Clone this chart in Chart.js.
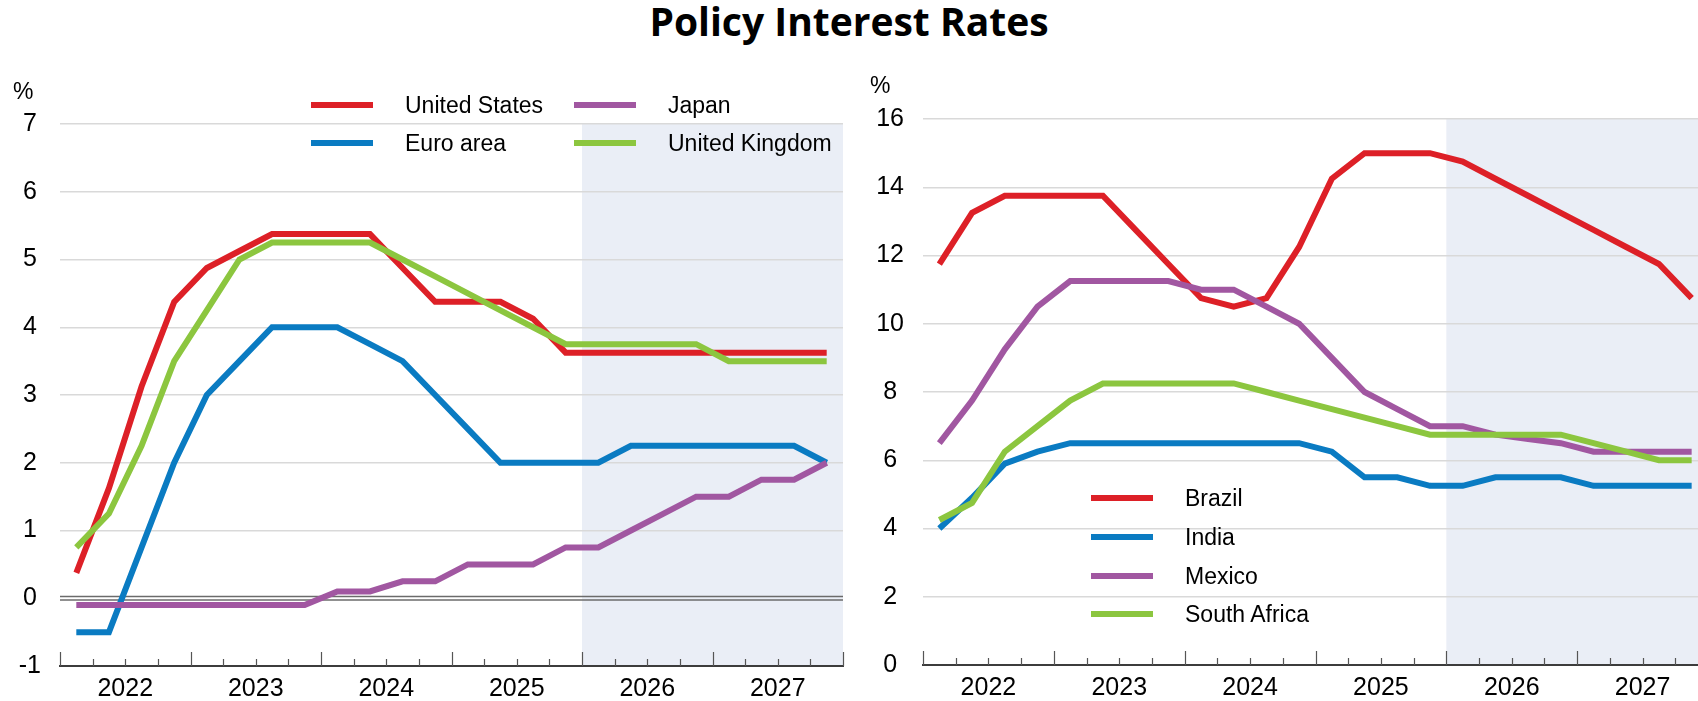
<!DOCTYPE html>
<html>
<head>
<meta charset="utf-8">
<title>Policy Interest Rates</title>
<script src="https://cdn.jsdelivr.net/npm/chart.js@4.4.1/dist/chart.umd.min.js"></script>
<style>
  html, body { margin: 0; padding: 0; width: 1698px; height: 701px; overflow: hidden; background: #fff; }
  body { position: relative; font-family: "Liberation Sans", Arial, sans-serif; color: #000; }
  #title { position: absolute; left: 0; top: -1px; width: 1698px; text-align: center;
           font-family: "Open Sans", Lato, sans-serif; font-weight: 700; font-size: 39px; line-height: 44px; }
  canvas { position: absolute; top: 0; }
  #leftChart { left: 0; }
  #rightChart { left: 850px; }
  .unit { position: absolute; font-size: 23px; line-height: 23px; }
  .item { position: absolute; height: 30px; display: flex; align-items: center; white-space: nowrap;
          font-size: 23px; line-height: 30px; }
  .swatch { display: inline-block; width: 62px; height: 6px; margin-right: 32px; }
</style>
</head>
<body>
<div id="title">Policy Interest Rates</div>
<canvas id="leftChart" width="850" height="701"></canvas>
<canvas id="rightChart" width="870" height="701"></canvas>
<div class="unit" style="left:13px; top:80px;">%</div>
<div class="unit" style="left:870px; top:74px;">%</div>
<div id="legends"></div>

<script>
// Quarters 2022Q1 .. 2027Q4
const years = ["2022", "2023", "2024", "2025", "2026", "2027"];
const quarters = [];
years.forEach(y => ["Q1", "Q2", "Q3", "Q4"].forEach(q => quarters.push(y + q)));

// Left panel: advanced economies (%)
const unitedStates = [0.375, 1.625, 3.125, 4.375, 4.875, 5.125, 5.375, 5.375, 5.375, 5.375, 4.875, 4.375,
                      4.375, 4.375, 4.125, 3.625, 3.625, 3.625, 3.625, 3.625, 3.625, 3.625, 3.625, 3.625];
const euroArea     = [-0.5, -0.5, 0.75, 2.0, 3.0, 3.5, 4.0, 4.0, 4.0, 3.75, 3.5, 3.0,
                      2.5, 2.0, 2.0, 2.0, 2.0, 2.25, 2.25, 2.25, 2.25, 2.25, 2.25, 2.0];
const japan        = [-0.1, -0.1, -0.1, -0.1, -0.1, -0.1, -0.1, -0.1, 0.1, 0.1, 0.25, 0.25,
                      0.5, 0.5, 0.5, 0.75, 0.75, 1.0, 1.25, 1.5, 1.5, 1.75, 1.75, 2.0];
const unitedKingdom = [0.75, 1.25, 2.25, 3.5, 4.25, 5.0, 5.25, 5.25, 5.25, 5.25, 5.0, 4.75,
                       4.5, 4.25, 4.0, 3.75, 3.75, 3.75, 3.75, 3.75, 3.5, 3.5, 3.5, 3.5];

// Right panel: emerging markets (%)
const brazil      = [11.75, 13.25, 13.75, 13.75, 13.75, 13.75, 12.75, 11.75, 10.75, 10.5, 10.75, 12.25,
                     14.25, 15.0, 15.0, 15.0, 14.75, 14.25, 13.75, 13.25, 12.75, 12.25, 11.75, 10.75];
const india       = [4.0, 4.9, 5.9, 6.25, 6.5, 6.5, 6.5, 6.5, 6.5, 6.5, 6.5, 6.5,
                     6.25, 5.5, 5.5, 5.25, 5.25, 5.5, 5.5, 5.5, 5.25, 5.25, 5.25, 5.25];
const mexico      = [6.5, 7.75, 9.25, 10.5, 11.25, 11.25, 11.25, 11.25, 11.0, 11.0, 10.5, 10.0,
                     9.0, 8.0, 7.5, 7.0, 7.0, 6.75, 6.625, 6.5, 6.25, 6.25, 6.25, 6.25];
const southAfrica = [4.25, 4.75, 6.25, 7.0, 7.75, 8.25, 8.25, 8.25, 8.25, 8.25, 8.0, 7.75,
                     7.5, 7.25, 7.0, 6.75, 6.75, 6.75, 6.75, 6.75, 6.5, 6.25, 6.0, 6.0];

const forecastStart = 16; // index of 2026Q1, shaded from here

const RED = "#dd2027", BLUE = "#0a7bc2", PURPLE = "#a157a1", GREEN = "#8cc63f";

function series(label, values, color) {
  return { label: label, values: values, color: color };
}

const leftSeries = [
  series("United States", unitedStates, RED),
  series("Euro area", euroArea, BLUE),
  series("Japan", japan, PURPLE),
  series("United Kingdom", unitedKingdom, GREEN)
];
const rightSeries = [
  series("Brazil", brazil, RED),
  series("India", india, BLUE),
  series("Mexico", mexico, PURPLE),
  series("South Africa", southAfrica, GREEN)
];

// shading, zero line and the little x ticks
const decor = {
  id: "decor",
  beforeDraw(chart, args, opts) {
    const { ctx, chartArea: a, scales: { x } } = chart;
    const x0 = x.getPixelForValue(opts.shadeFrom);
    ctx.save();
    ctx.fillStyle = "#eaeef6";
    ctx.fillRect(x0, a.top, a.right - x0, a.bottom - a.top);
    ctx.restore();
  },
  beforeDatasetsDraw(chart, args, opts) {
    if (!opts.zeroLine) return;
    const { ctx, chartArea: a, scales: { y } } = chart;
    const y0 = y.getPixelForValue(0);
    ctx.save();
    ctx.strokeStyle = "#6b6b6b";
    ctx.lineWidth = 1.4;
    [-1.7, 1.7].forEach(d => {
      ctx.beginPath();
      ctx.moveTo(a.left, y0 + d);
      ctx.lineTo(a.right, y0 + d);
      ctx.stroke();
    });
    ctx.restore();
  },
  afterDatasetsDraw(chart) {
    const { ctx, chartArea: a, scales: { x } } = chart;
    ctx.save();
    ctx.strokeStyle = "#555";
    ctx.lineWidth = 1.2;
    for (let i = 0; i <= quarters.length; i++) {
      const px = Math.round(x.getPixelForValue(i)) + 0.5;
      const len = i % 4 === 0 ? 14 : 7;
      ctx.beginPath();
      ctx.moveTo(px, a.bottom);
      ctx.lineTo(px, a.bottom - len);
      ctx.stroke();
    }
    ctx.restore();
  }
};

function makeChart(id, list, yMin, yMax, yStep, box, zeroLine) {
  const datasets = list.map((s, k) => ({
    label: s.label,
    data: s.values.map((v, i) => ({ x: i + 0.5, y: v })),
    borderColor: s.color,
    backgroundColor: s.color,
    borderWidth: 6,
    borderJoinStyle: "miter",
    borderCapStyle: "butt",
    pointRadius: 0,
    tension: 0,
    order: list.length - k
  }));

  return new Chart(document.getElementById(id), {
    type: "line",
    data: { datasets: datasets },
    options: {
      responsive: false,
      animation: false,
      events: [],
      layout: { padding: { top: box.top, right: box.right, bottom: 0, left: 0 } },
      plugins: {
        legend: { display: false },
        tooltip: { enabled: false },
        decor: { shadeFrom: forecastStart, zeroLine: zeroLine }
      },
      scales: {
        x: {
          type: "linear",
          min: 0,
          max: quarters.length,
          afterFit: s => { s.height = box.xHeight; },
          grid: { display: false },
          border: { display: true, color: "#3c3c3c", width: 2 },
          ticks: {
            stepSize: 1,
            autoSkip: false,
            maxRotation: 0,
            padding: 0,
            color: "#000",
            font: { family: "Liberation Sans", size: 25 },
            callback: v => (v % 4 === 2 ? years[(v - 2) / 4] : "")
          }
        },
        y: {
          min: yMin,
          max: yMax,
          afterFit: s => { s.width = box.yWidth; },
          grid: {
            drawTicks: false,
            lineWidth: 1.5,
            color: c => (zeroLine && c.tick.value === 0 ? "rgba(0,0,0,0)" : "#d9d9d9")
          },
          border: { display: false },
          ticks: {
            stepSize: yStep,
            padding: 19,
            crossAlign: "center",
            color: "#000",
            font: { family: "Liberation Sans", size: 25 }
          }
        }
      }
    },
    plugins: [decor]
  });
}

makeChart("leftChart", leftSeries, -1, 7, 1, { top: 124, right: 7, xHeight: 35, yWidth: 60 }, true);
makeChart("rightChart", rightSeries, 0, 16, 2, { top: 119, right: 12, xHeight: 36, yWidth: 73 }, false);

// Legends (real text), laid out as in the original
const legendSpots = {
  "United States":  [311, 105],
  "Euro area":      [311, 143],
  "Japan":          [574, 105],
  "United Kingdom": [574, 143],
  "Brazil":         [1091, 498],
  "India":          [1091, 537],
  "Mexico":         [1091, 576],
  "South Africa":   [1091, 614]
};
const holder = document.getElementById("legends");
leftSeries.concat(rightSeries).forEach(s => {
  const spot = legendSpots[s.label];
  const item = document.createElement("div");
  item.className = "item";
  item.style.left = spot[0] + "px";
  item.style.top = (spot[1] - 15) + "px";
  item.innerHTML = `<span class="swatch" style="background:${s.color}"></span><span>${s.label}</span>`;
  holder.appendChild(item);
});
</script>
</body>
</html>
